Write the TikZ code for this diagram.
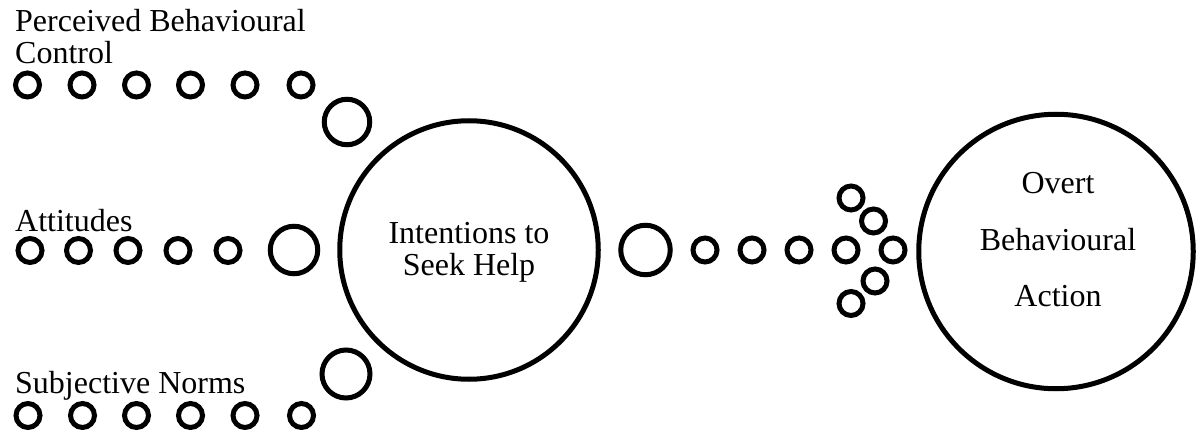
\documentclass[tikz,border=0pt]{standalone}
\usepackage{fontspec}
\setmainfont{Liberation Serif}
\begin{document}
\begin{tikzpicture}[x=1pt,y=-1pt,
  ring/.style={circle,draw,line width=5pt,minimum size=24pt,inner sep=0pt},
  bigring/.style={circle,draw,line width=5pt,inner sep=0pt},
  lbl/.style={inner sep=0pt,font=\fontsize{32}{31}\selectfont}]
\useasboundingbox (0,0) rectangle (1197,430);

% labels
\node[lbl,anchor=base west] (pbc) at (15,32) {\begin{tabular}[t]{@{}l@{}}Perceived Behavioural\\Control\end{tabular}};
\node[lbl,anchor=base west] (att) at (15,232) {Attitudes};
\node[lbl,anchor=base west] (sn) at (15,393) {Subjective Norms};

% top row
\foreach \x [count=\i] in {27.5,82,136.5,190.5,245,301}
  \node[ring] (t\i) at (\x,85) {};
\node[bigring,minimum size=45.5pt] (tb) at (347,122) {};

% attitudes row
\foreach \x [count=\i] in {30,78.5,128,178,228}
  \node[ring] (a\i) at (\x,250.5) {};
\node[bigring,minimum size=47.5pt] (ab) at (294,250) {};

% subjective norms row
\foreach \x [count=\i] in {28,82.5,136.5,190.5,245,301.5}
  \node[ring] (s\i) at (\x,415.5) {};
\node[bigring,minimum size=48pt] (sb) at (346,374) {};

% intentions
\node[bigring,minimum size=258.5pt] (ish) at (469,250) {};
\node[lbl,font=\fontsize{32}{32}\selectfont,anchor=base] (ishtxt) at (469,244) {\begin{tabular}[t]{@{}c@{}}Intentions to\\Seek Help\end{tabular}};

% right chain
\node[bigring,minimum size=49.5pt] (rb) at (645.5,250) {};
\foreach \x [count=\i] in {705,752,799,846,893}
  \node[ring] (r\i) at (\x,250) {};
\node[ring] (u1) at (851,198) {};
\node[ring] (u2) at (873.5,221) {};
\node[ring] (l2) at (875,281) {};
\node[ring] (l1) at (851,303.5) {};

% overt behavioural action
\node[bigring,minimum size=274.5pt] (oba) at (1056,251.5) {};
\node[lbl,font=\fontsize{32}{56.5}\selectfont,anchor=base] (obatxt) at (1058,194) {\begin{tabular}[t]{@{}c@{}}Overt\\Behavioural\\Action\end{tabular}};
\end{tikzpicture}
\end{document}
